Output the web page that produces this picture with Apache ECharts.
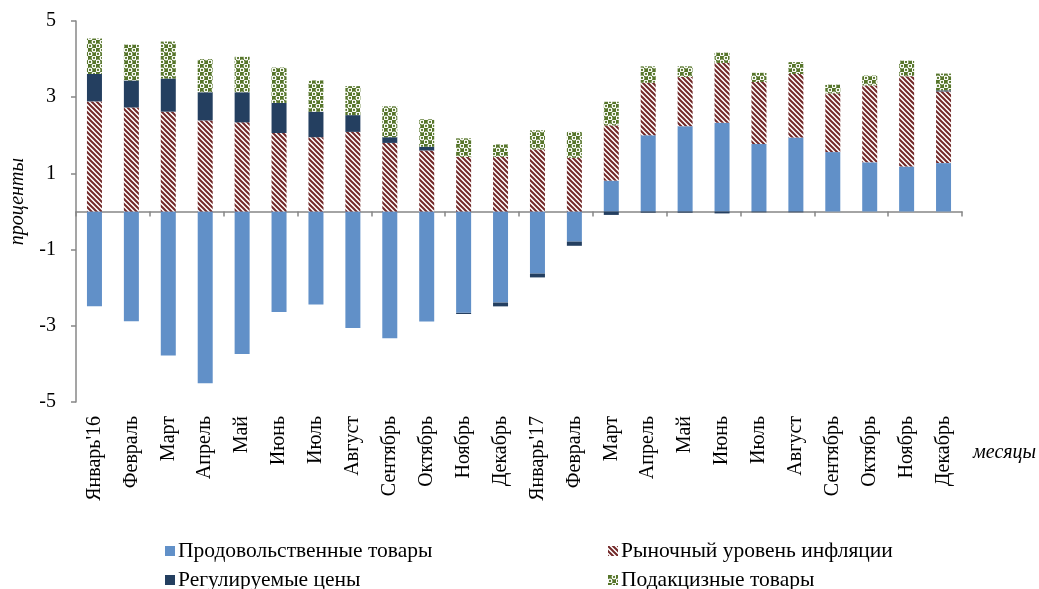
<!DOCTYPE html>
<html>
<head>
<meta charset="utf-8">
<script src="https://cdn.jsdelivr.net/npm/echarts@6/dist/echarts.min.js"></script>
<style>
  html, body { margin: 0; padding: 0; background: #fff; }
  #chart { width: 1039px; height: 589px; }
</style>
</head>
<body>
<div id="chart"></div>
<script>
// месяцы
const months = ['Январь\'16', 'Февраль', 'Март', 'Апрель', 'Май', 'Июнь', 'Июль', 'Август',
  'Сентябрь', 'Октябрь', 'Ноябрь', 'Декабрь', 'Январь\'17', 'Февраль', 'Март', 'Апрель',
  'Май', 'Июнь', 'Июль', 'Август', 'Сентябрь', 'Октябрь', 'Ноябрь', 'Декабрь']

// вклад групп, п.п.
const food = [-2.49, -2.88, -3.78, -4.51, -3.74, -2.64, -2.44, -3.06, -3.33, -2.89, -2.66, -2.39,
  -1.63, -0.79, 0.81, 2.0, 2.24, 2.33, 1.77, 1.94, 1.56, 1.29, 1.18, 1.27]
const market = [2.89, 2.73, 2.62, 2.39, 2.34, 2.06, 1.95, 2.09, 1.80, 1.60, 1.43, 1.43,
  1.63, 1.41, 1.45, 1.38, 1.29, 1.57, 1.63, 1.67, 1.54, 2.02, 2.37, 1.88]
const regulated = [0.72, 0.71, 0.87, 0.74, 0.79, 0.79, 0.67, 0.44, 0.15, 0.10, -0.03, -0.10,
  -0.10, -0.11, -0.09, -0.03, -0.03, -0.05, -0.02, -0.02, 0, 0, 0, 0.03]
const excise = [0.93, 0.94, 0.97, 0.87, 0.93, 0.93, 0.82, 0.76, 0.81, 0.72, 0.49, 0.33,
  0.50, 0.68, 0.62, 0.43, 0.28, 0.27, 0.24, 0.31, 0.23, 0.26, 0.41, 0.44]

const yTicks = [-5, -3, -1, 1, 3, 5]

const FONT = '"Liberation Serif", "Times New Roman", serif'

// штриховка для рыночной инфляции
function stripePattern() {
  const c = document.createElement('canvas')
  c.width = 5
  c.height = 5
  const ctx = c.getContext('2d')
  ctx.fillStyle = '#fff'
  ctx.fillRect(0, 0, 5, 5)
  ctx.strokeStyle = '#722828'
  ctx.lineWidth = 2
  ctx.beginPath()
  ctx.moveTo(-1, -1); ctx.lineTo(6, 6)
  ctx.moveTo(-1, 4); ctx.lineTo(1, 6)
  ctx.moveTo(4, -1); ctx.lineTo(6, 1)
  ctx.stroke()
  return c
}

// узор для подакцизных: зелёный фон с белыми кольцами
function dotPattern() {
  const c = document.createElement('canvas')
  c.width = 8
  c.height = 8
  const ctx = c.getContext('2d')
  ctx.fillStyle = '#56752a'
  ctx.fillRect(0, 0, 8, 8)
  ctx.strokeStyle = '#fff'
  ctx.lineWidth = 1.3
  ctx.beginPath(); ctx.arc(2, 6, 1.8, 0, Math.PI * 2); ctx.stroke()
  ctx.beginPath(); ctx.arc(6, 2, 1.8, 0, Math.PI * 2); ctx.stroke()
  return c
}

// одна легенда на элемент, чтобы расставить их в две колонки
function legendItem(name, left, top) {
  return {
    data: [name], left: left, top: top,
    itemWidth: 10, itemHeight: 10, icon: 'rect',
    textStyle: { fontFamily: FONT, fontSize: 21.5, color: '#000', padding: [0, 0, 0, -2] }
  }
}

const chart = echarts.init(document.getElementById('chart'))

const barBase = { type: 'bar', stack: 'total', barWidth: 15, xAxisIndex: 0 }

chart.setOption({
  animation: false,
  textStyle: { fontFamily: FONT },
  grid: { left: 76, right: 77, top: 21, bottom: 187 },

  legend: [
    legendItem('Продовольственные товары', 160, 535),
    legendItem('Регулируемые цены', 160, 564),
    legendItem('Рыночный уровень инфляции', 603, 535),
    legendItem('Подакцизные товары', 603, 564)
  ],

  xAxis: [
    {
      type: 'category',
      data: months,
      axisLine: { onZero: true, lineStyle: { color: '#878787', width: 1.5 } },
      axisTick: { show: true, length: 5, lineStyle: { color: '#878787', width: 1.5 } },
      axisLabel: { show: false }
    },
    {
      type: 'category',
      data: months,
      position: 'bottom',
      axisLine: { show: false, onZero: false },
      axisTick: { show: false },
      axisLabel: {
        rotate: 90, interval: 0, margin: 14,
        fontFamily: FONT, fontSize: 20, color: '#000'
      }
    }
  ],

  yAxis: {
    type: 'value',
    min: -5,
    max: 5,
    interval: 2,
    splitLine: { show: false },
    axisLine: { show: true, lineStyle: { color: '#878787', width: 1.5 } },
    axisTick: { show: true, length: 5, lineStyle: { color: '#878787', width: 1.5 } },
    axisLabel: {
      margin: 20, fontFamily: FONT, fontSize: 20, color: '#000',
      formatter: v => (yTicks.indexOf(v) >= 0 ? String(v) : '')
    }
  },

  graphic: [
    {
      type: 'text', left: 8, top: 158, rotation: Math.PI / 2,
      style: { text: 'проценты', font: 'italic 20px ' + FONT, fill: '#000' }
    },
    {
      type: 'text', left: 973, top: 443,
      style: { text: 'месяцы', font: 'italic 20px ' + FONT, fill: '#000' }
    }
  ],

  series: [
    Object.assign({}, barBase, {
      name: 'Продовольственные товары',
      data: food,
      itemStyle: { color: '#6190c8' }
    }),
    Object.assign({}, barBase, {
      name: 'Рыночный уровень инфляции',
      data: market,
      itemStyle: { color: { image: stripePattern(), repeat: 'repeat' } }
    }),
    Object.assign({}, barBase, {
      name: 'Регулируемые цены',
      data: regulated,
      itemStyle: { color: '#243f60' }
    }),
    Object.assign({}, barBase, {
      name: 'Подакцизные товары',
      data: excise,
      itemStyle: { color: { image: dotPattern(), repeat: 'repeat' } }
    })
  ]
})
</script>
</body>
</html>
